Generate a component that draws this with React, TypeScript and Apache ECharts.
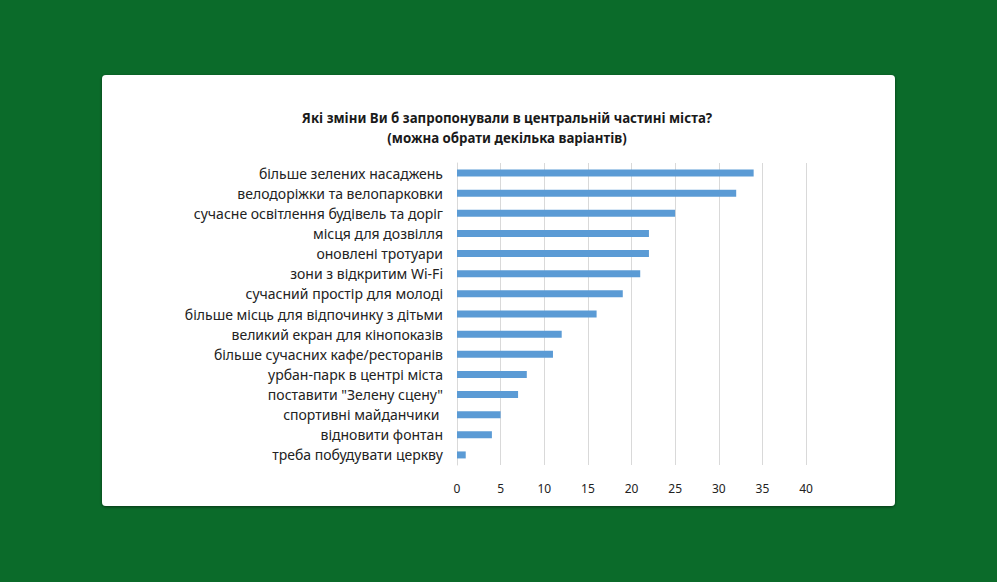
import React, { useEffect, useRef } from "react";
import * as echarts from "echarts";

const categories = [
  "більше зелених насаджень",
  "велодоріжки та велопарковки",
  "сучасне освітлення будівель та доріг",
  "місця для дозвілля",
  "оновлені тротуари",
  "зони з відкритим Wi-Fi",
  "сучасний простір для молоді",
  "більше місць для відпочинку з дітьми",
  "великий екран для кінопоказів",
  "більше сучасних кафе/ресторанів",
  "урбан-парк в центрі міста",
  "поставити \"Зелену сцену\"",
  "спортивні майданчики ",
  "відновити фонтан",
  "треба побудувати церкву",
];
const values = [34, 32, 25, 22, 22, 21, 19, 16, 12, 11, 8, 7, 5, 4, 1];
const titleLines = [
  "Які зміни Ви б запропонували в центральній частині міста?",
  "(можна обрати декілька варіантів)",
];

export default function App() {
  const ref = useRef<HTMLDivElement>(null);
  useEffect(() => {
    document.body.style.margin = "0";
    const chart = echarts.init(ref.current!, null, { renderer: "svg" });
    const font = "Noto Sans, sans-serif";
    chart.setOption({
      animation: false,
      backgroundColor: "#0b6b2a",
      graphic: [
        {
          type: "rect",
          shape: { x: 102, y: 75, width: 793, height: 431, r: 4 },
          style: { fill: "#ffffff", shadowBlur: 3, shadowColor: "rgba(0,0,0,0.5)", shadowOffsetY: 1 },
          z: -10,
        },
      ],
      title: {
        text: titleLines.join("\n"),
        left: 502,
        top: 103,
        textAlign: "center",
        textStyle: { fontFamily: font, fontSize: 13.3, fontWeight: "bold", color: "#1a1a1a", lineHeight: 20 },
      },
      grid: { left: 457, right: 191, top: 163, bottom: 117, containLabel: false },
      xAxis: {
        type: "value",
        min: 0,
        max: 40,
        interval: 5,
        axisLine: { show: false },
        axisTick: { show: false },
        splitLine: { lineStyle: { color: "#d9d9d9", width: 1 } },
        axisLabel: { fontFamily: font, fontSize: 12, color: "#222", margin: 17 },
      },
      yAxis: {
        type: "category",
        inverse: true,
        data: categories,
        axisLine: { show: true, lineStyle: { color: "#d9d9d9" } },
        axisTick: { show: false },
        axisLabel: { fontFamily: font, fontSize: 14, color: "#222", margin: 14 },
      },
      series: [
        {
          type: "bar",
          data: values,
          barWidth: 7,
          itemStyle: { color: "#5b9bd5" },
        },
      ],
    });
    return () => chart.dispose();
  }, []);
  return <div ref={ref} style={{ width: 997, height: 582 }} />;
}
